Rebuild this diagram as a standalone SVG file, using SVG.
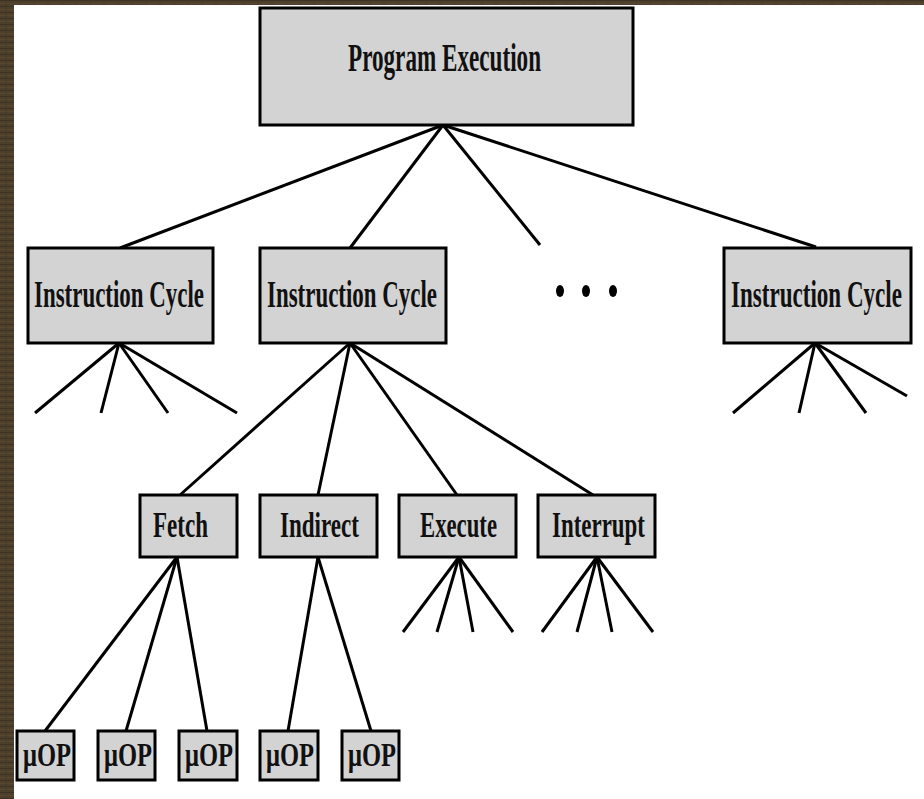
<svg xmlns="http://www.w3.org/2000/svg" width="924" height="799" viewBox="0 0 924 799">
  <defs>
    <pattern id="wood" width="14" height="6" patternUnits="userSpaceOnUse">
      <rect width="14" height="6" fill="#4c3f2b"/>
      <rect y="0" width="14" height="1" fill="#3e3322"/>
      <rect y="3" width="14" height="1" fill="#57482f"/>
      <rect x="5" width="2" height="6" fill="#43372566"/>
    </pattern>
    <style>
      .box { fill: #d3d3d3; stroke: #000; stroke-width: 3; }
      .lbl { font-family: "Liberation Serif", "Times New Roman", serif; font-weight: bold; fill: #111; text-anchor: start; }
      .con line { stroke: #000; stroke-width: 3; stroke-linecap: butt; }
    </style>
  </defs>

  <!-- page background and frame edge -->
  <rect width="924" height="799" fill="#fff"/>
  <rect x="0" y="0" width="14" height="799" fill="url(#wood)"/>
  <rect x="0" y="0" width="924" height="5" fill="url(#wood)"/>

  <!-- connectors -->
  <g id="connectors" class="con">
    <line x1="443" y1="125" x2="120" y2="248"/>
    <line x1="443" y1="125" x2="350" y2="248"/>
    <line x1="443" y1="125" x2="540" y2="245"/>
    <line x1="443" y1="125" x2="816" y2="247"/>

    <line x1="119" y1="343" x2="35" y2="413"/>
    <line x1="119" y1="343" x2="101" y2="413"/>
    <line x1="119" y1="343" x2="168" y2="413"/>
    <line x1="119" y1="343" x2="237" y2="413"/>

    <line x1="815" y1="343" x2="733" y2="413"/>
    <line x1="815" y1="343" x2="799" y2="413"/>
    <line x1="815" y1="343" x2="866" y2="413"/>
    <line x1="815" y1="343" x2="907" y2="396"/>

    <line x1="350" y1="343" x2="180" y2="495"/>
    <line x1="350" y1="343" x2="318" y2="495"/>
    <line x1="350" y1="343" x2="457" y2="495"/>
    <line x1="350" y1="343" x2="593" y2="495"/>

    <line x1="177" y1="557" x2="45" y2="731"/>
    <line x1="177" y1="557" x2="126" y2="731"/>
    <line x1="177" y1="557" x2="207" y2="731"/>

    <line x1="318" y1="557" x2="288" y2="731"/>
    <line x1="318" y1="557" x2="371" y2="731"/>

    <line x1="459" y1="557" x2="403" y2="632"/>
    <line x1="459" y1="557" x2="437" y2="632"/>
    <line x1="459" y1="557" x2="473" y2="632"/>
    <line x1="459" y1="557" x2="513" y2="632"/>

    <line x1="597" y1="557" x2="542" y2="632"/>
    <line x1="597" y1="557" x2="577" y2="632"/>
    <line x1="597" y1="557" x2="612" y2="632"/>
    <line x1="597" y1="557" x2="653" y2="632"/>
  </g>

  <g id="program-execution">
    <rect class="box" x="260" y="8" width="373" height="117"/>
    <text class="lbl" x="348" y="71" font-size="40" textLength="193" lengthAdjust="spacingAndGlyphs">Program Execution</text>
  </g>

  <g id="cycle-1">
    <rect class="box" x="28" y="248" width="185" height="95"/>
    <text class="lbl" x="34" y="307" font-size="37" textLength="170" lengthAdjust="spacingAndGlyphs">Instruction Cycle</text>
  </g>
  <g id="cycle-2">
    <rect class="box" x="260" y="248" width="186" height="95"/>
    <text class="lbl" x="267" y="307" font-size="37" textLength="170" lengthAdjust="spacingAndGlyphs">Instruction Cycle</text>
  </g>
  <g id="ellipsis">
    <ellipse cx="560" cy="291" rx="4" ry="6" fill="#000"/>
    <ellipse cx="586" cy="291" rx="4" ry="6" fill="#000"/>
    <ellipse cx="613" cy="291" rx="4" ry="6" fill="#000"/>
  </g>
  <g id="cycle-n">
    <rect class="box" x="724" y="248" width="187" height="95"/>
    <text class="lbl" x="731" y="307" font-size="37" textLength="171" lengthAdjust="spacingAndGlyphs">Instruction Cycle</text>
  </g>

  <g id="fetch">
    <rect class="box" x="140" y="495" width="97" height="62"/>
    <text class="lbl" x="153" y="537" font-size="36" textLength="55" lengthAdjust="spacingAndGlyphs">Fetch</text>
  </g>
  <g id="indirect">
    <rect class="box" x="260" y="495" width="117" height="62"/>
    <text class="lbl" x="280" y="537" font-size="36" textLength="79" lengthAdjust="spacingAndGlyphs">Indirect</text>
  </g>
  <g id="execute">
    <rect class="box" x="399" y="495" width="117" height="62"/>
    <text class="lbl" x="420" y="537" font-size="36" textLength="77" lengthAdjust="spacingAndGlyphs">Execute</text>
  </g>
  <g id="interrupt">
    <rect class="box" x="538" y="495" width="117" height="62"/>
    <text class="lbl" x="552" y="537" font-size="36" textLength="93" lengthAdjust="spacingAndGlyphs">Interrupt</text>
  </g>

  <g id="uop-1">
    <rect class="box" x="17" y="731" width="57" height="49"/>
    <text class="lbl" x="23" y="766" font-size="33" textLength="48" lengthAdjust="spacingAndGlyphs">μOP</text>
  </g>
  <g id="uop-2">
    <rect class="box" x="98" y="731" width="57" height="49"/>
    <text class="lbl" x="104" y="766" font-size="33" textLength="48" lengthAdjust="spacingAndGlyphs">μOP</text>
  </g>
  <g id="uop-3">
    <rect class="box" x="179" y="731" width="58" height="49"/>
    <text class="lbl" x="185" y="766" font-size="33" textLength="48" lengthAdjust="spacingAndGlyphs">μOP</text>
  </g>
  <g id="uop-4">
    <rect class="box" x="260" y="731" width="58" height="49"/>
    <text class="lbl" x="266" y="766" font-size="33" textLength="48" lengthAdjust="spacingAndGlyphs">μOP</text>
  </g>
  <g id="uop-5">
    <rect class="box" x="342" y="731" width="57" height="49"/>
    <text class="lbl" x="348" y="766" font-size="33" textLength="48" lengthAdjust="spacingAndGlyphs">μOP</text>
  </g>
</svg>
